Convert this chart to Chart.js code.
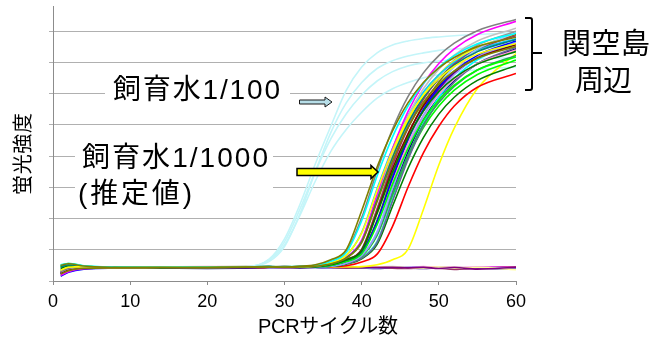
<!DOCTYPE html>
<html><head><meta charset="utf-8">
<script src="https://cdn.jsdelivr.net/npm/chart.js@4.4.1/dist/chart.umd.min.js"></script>
<style>html,body{margin:0;padding:0;background:#fff;}#wrap{width:660px;height:339px;}</style>
</head><body><div id="wrap"><canvas id="c" width="660" height="339"></canvas></div>
<script>
// ---- data ----
const cycles = [1,2,4,8,14,20,25,28,30,32,34,36,38,40,42,44,46,48,50,52,55,60];
const xTickValues = [0,10,20,30,40,50,60];

// 飼育水1/100 (light blue)
const water100 = [
  [0.48,0.53,0.46,0.44,0.45,0.44,0.45,0.70,1.35,2.45,3.75,4.95,6.10,6.85,7.30,7.55,7.68,7.76,7.81,7.85,7.89,7.95],
  [0.40,0.47,0.45,0.43,0.44,0.45,0.45,0.68,1.25,2.30,3.50,4.55,5.35,5.95,6.40,6.70,6.88,6.98,7.04,7.08,7.11,7.15],
  [0.33,0.42,0.44,0.44,0.43,0.45,0.46,0.66,1.15,2.10,3.20,4.15,4.85,5.40,5.85,6.15,6.35,6.50,6.60,6.68,6.76,6.85],
  [0.25,0.36,0.42,0.43,0.44,0.44,0.45,0.62,1.10,2.15,3.50,4.75,5.70,6.35,6.80,7.05,7.20,7.30,7.38,7.42,7.46,7.50]
];
const water100Color = '#c4f5f9';

// 関空島周辺 samples
const kix = [
  [0.50,0.55,0.48,0.44,0.43,0.44,0.45,0.45,0.45,0.47,0.52,0.68,1.00,2.25,3.65,4.80,5.70,6.35,6.82,7.15,7.50,7.80],
  [0.22,0.33,0.40,0.42,0.43,0.42,0.44,0.45,0.44,0.45,0.47,0.55,0.73,1.23,2.54,3.85,4.91,5.72,6.30,6.72,7.13,7.51],
  [0.52,0.56,0.49,0.45,0.44,0.45,0.44,0.45,0.46,0.46,0.50,0.63,0.91,1.93,3.36,4.61,5.60,6.32,6.84,7.21,7.59,7.93],
  [0.35,0.44,0.46,0.43,0.44,0.45,0.44,0.44,0.46,0.45,0.48,0.58,0.82,1.53,2.90,4.17,5.20,5.94,6.48,6.87,7.26,7.60],
  [0.30,0.40,0.44,0.42,0.43,0.45,0.46,0.44,0.45,0.46,0.50,0.64,0.94,2.02,3.53,4.86,5.90,6.66,7.21,7.61,8.01,8.37],
  [0.45,0.52,0.47,0.44,0.45,0.43,0.45,0.46,0.45,0.44,0.47,0.55,0.74,1.25,2.60,3.95,5.05,5.88,6.48,6.91,7.34,7.73],
  [0.18,0.30,0.39,0.42,0.44,0.43,0.44,0.45,0.46,0.45,0.47,0.56,0.76,1.31,2.77,4.23,5.42,6.31,6.96,7.43,7.89,8.31],
  [0.40,0.48,0.45,0.43,0.42,0.44,0.45,0.46,0.44,0.45,0.46,0.52,0.67,0.97,2.16,3.49,4.58,5.44,6.06,6.50,6.94,7.34],
  [0.48,0.54,0.47,0.44,0.44,0.45,0.44,0.45,0.45,0.46,0.46,0.50,0.62,0.87,1.80,3.10,4.24,5.15,5.80,6.27,6.75,7.17],
  [0.15,0.28,0.38,0.41,0.42,0.44,0.43,0.45,0.45,0.46,0.46,0.50,0.63,0.90,1.90,3.30,4.53,5.50,6.20,6.71,7.22,7.68],
  [0.32,0.41,0.44,0.43,0.44,0.44,0.45,0.45,0.44,0.46,0.47,0.55,0.75,1.29,2.71,4.13,5.28,6.15,6.78,7.23,7.68,8.09],
  [0.24,0.34,0.41,0.43,0.42,0.44,0.43,0.44,0.45,0.45,0.46,0.52,0.68,0.99,2.21,3.59,4.71,5.60,6.23,6.69,7.14,7.56],
  [0.20,0.31,0.40,0.42,0.43,0.43,0.44,0.45,0.44,0.45,0.455,0.48,0.58,0.82,1.55,2.95,4.25,5.30,6.05,6.60,7.15,7.65],
  [0.38,0.46,0.45,0.44,0.45,0.44,0.45,0.44,0.45,0.46,0.46,0.50,0.63,0.88,1.84,3.19,4.37,5.30,5.97,6.46,6.95,7.39],
  [0.28,0.37,0.42,0.43,0.44,0.45,0.44,0.46,0.45,0.45,0.46,0.48,0.58,0.83,1.59,3.05,4.40,5.49,6.27,6.85,7.42,7.94],
  [0.26,0.35,0.41,0.42,0.43,0.44,0.45,0.44,0.46,0.45,0.46,0.52,0.68,1.01,2.29,3.71,4.89,5.81,6.47,6.95,7.42,7.85],
  [0.46,0.51,0.46,0.44,0.43,0.44,0.45,0.45,0.44,0.45,0.455,0.48,0.58,0.80,1.48,2.80,4.02,5.01,5.71,6.23,6.75,7.22],
  [0.42,0.50,0.46,0.44,0.44,0.43,0.45,0.46,0.45,0.45,0.48,0.58,0.82,1.55,2.95,4.25,5.30,6.05,6.60,7.00,7.40,7.75],
  [0.21,0.32,0.40,0.42,0.43,0.44,0.43,0.45,0.44,0.45,0.45,0.47,0.55,0.73,1.23,2.56,3.88,4.96,5.77,6.36,6.95,7.48],
  [0.36,0.43,0.45,0.43,0.44,0.45,0.44,0.45,0.46,0.45,0.46,0.50,0.63,0.91,1.94,3.39,4.65,5.65,6.37,6.90,7.42,7.90],
  [0.44,0.49,0.46,0.45,0.44,0.44,0.45,0.45,0.45,0.46,0.47,0.55,0.75,1.27,2.64,4.02,5.14,5.99,6.60,7.04,7.48,7.88],
  [0.27,0.36,0.42,0.43,0.43,0.44,0.44,0.45,0.44,0.45,0.45,0.47,0.54,0.71,1.17,2.39,3.60,4.59,5.34,5.88,6.42,6.90],
  [0.50,0.56,0.48,0.44,0.44,0.45,0.45,0.44,0.45,0.45,0.455,0.48,0.57,0.79,1.46,2.75,3.95,4.91,5.60,6.11,6.61,7.07],
  [0.31,0.39,0.43,0.43,0.44,0.44,0.45,0.46,0.45,0.45,0.46,0.52,0.69,1.02,2.32,3.78,4.97,5.91,6.59,7.07,7.55,7.99],
  [0.49,0.55,0.48,0.45,0.44,0.44,0.45,0.45,0.46,0.45,0.45,0.47,0.55,0.74,1.25,2.60,3.95,5.05,5.88,6.48,7.08,7.62],
  [0.23,0.33,0.40,0.42,0.42,0.43,0.44,0.45,0.44,0.45,0.46,0.50,0.63,0.90,1.89,3.27,4.48,5.45,6.14,6.65,7.15,7.61],
  [0.25,0.35,0.41,0.42,0.43,0.42,0.43,0.44,0.45,0.44,0.455,0.48,0.58,0.81,1.52,2.88,4.14,5.15,5.88,6.42,6.95,7.43],
  [0.37,0.44,0.45,0.44,0.43,0.45,0.44,0.45,0.45,0.46,0.45,0.47,0.55,0.75,1.28,2.69,4.09,5.23,6.10,6.72,7.35,7.91],
  [0.29,0.38,0.42,0.43,0.43,0.44,0.43,0.44,0.45,0.44,0.45,0.46,0.49,0.61,0.86,1.75,3.00,4.10,4.95,5.60,6.20,6.64],
  [0.33,0.40,0.43,0.44,0.43,0.44,0.45,0.44,0.45,0.44,0.45,0.45,0.45,0.46,0.52,0.68,1.01,2.29,3.71,4.89,6.16,7.28]
];
const kixColors = ['#808000','#808000','#00ffff','#ffff00','#808080','#008080','#ff00ff','#008000','#00ff00','#0000ff',
  '#c0c0c0','#800000','#9999ff','#ff99cc','#99ccff','#993366','#339966','#00ccff','#666699','#808000',
  '#ffff00','#008000','#00ff00','#969696','#00ffff','#800080','#000080','#c0c0c0','#ff0000','#ffff00'];

// negative controls (flat)
const negatives = [
  [0.28,0.36,0.42,0.43,0.44,0.43,0.45,0.44,0.45,0.44,0.46,0.45,0.44,0.45,0.43,0.44,0.42,0.44,0.40,0.43,0.38,0.44],
  [0.32,0.40,0.44,0.45,0.44,0.45,0.46,0.47,0.46,0.47,0.48,0.47,0.46,0.45,0.44,0.45,0.43,0.42,0.45,0.41,0.44,0.36],
  [0.20,0.32,0.40,0.41,0.42,0.41,0.43,0.42,0.43,0.44,0.43,0.42,0.44,0.43,0.42,0.44,0.45,0.43,0.42,0.41,0.43,0.42],
  [0.24,0.34,0.41,0.43,0.42,0.44,0.43,0.41,0.42,0.43,0.44,0.42,0.41,0.42,0.43,0.41,0.40,0.42,0.41,0.37,0.42,0.45],
  [0.26,0.35,0.40,0.42,0.41,0.40,0.41,0.42,0.43,0.42,0.43,0.41,0.42,0.41,0.40,0.42,0.41,0.40,0.42,0.40,0.41,0.40],
  [0.38,0.46,0.45,0.44,0.45,0.46,0.45,0.44,0.45,0.46,0.45,0.44,0.46,0.45,0.44,0.43,0.44,0.46,0.43,0.44,0.42,0.43],
  [0.30,0.38,0.43,0.44,0.43,0.44,0.45,0.46,0.44,0.45,0.44,0.43,0.45,0.44,0.45,0.46,0.44,0.43,0.44,0.45,0.40,0.38],
  [0.27,0.37,0.43,0.42,0.44,0.45,0.44,0.43,0.44,0.45,0.44,0.45,0.43,0.44,0.45,0.43,0.44,0.45,0.43,0.42,0.44,0.45],
  [0.23,0.33,0.41,0.43,0.43,0.42,0.44,0.43,0.44,0.43,0.45,0.44,0.43,0.42,0.44,0.43,0.42,0.41,0.43,0.44,0.39,0.41]
];
const negColors = ['#800080','#ffff99','#9999ff','#993366','#000080','#ff99cc','#c0c0c0','#ff00ff','#cc99ff'];

// texts
const yTitle = '蛍光強度';
const xTitle = 'PCRサイクル数';
const label100 = '飼育水1/100';
const label1000 = ['飼育水1/1000', '(推定値)'];
const labelKix = ['関空島', '周辺'];

// ---- build datasets ----
function toPts(vals){ return cycles.map((c,i)=>({x:c, y:vals[i]})); }
const datasets = [];
kix.forEach((v,i)=>datasets.push({data:toPts(v), borderColor:kixColors[i]}));
water100.forEach(v=>datasets.push({data:toPts(v), borderColor:water100Color}));
negatives.forEach((v,i)=>datasets.push({data:toPts(v), borderColor:negColors[i]}));
datasets.forEach(d=>{ d.borderWidth=1.6; d.pointRadius=0; d.fill=false; d.cubicInterpolationMode='monotone'; });

const FONT = "'Liberation Sans', 'Noto Sans CJK JP', sans-serif";

function spaced(ctx, text, x, y, width){
  const chars = Array.from(text);
  const w = chars.map(c=>ctx.measureText(c).width);
  const nat = w.reduce((a,b)=>a+b,0);
  const gap = chars.length>1 ? (width-nat)/(chars.length-1) : 0;
  let cx = x;
  chars.forEach((c,i)=>{ ctx.fillText(c, cx, y); cx += w[i]+gap; });
}

const annot = {
  id:'annot',
  afterDraw(chart){
    const ctx = chart.ctx;
    ctx.save();
    ctx.fillStyle = '#fff';
    ctx.fillRect(105, 78, 185, 28);
    ctx.fillRect(75, 140, 198, 70);
    ctx.fillStyle = '#000';
    ctx.textBaseline = 'middle';
    ctx.textAlign = 'left';
    ctx.font = '28px ' + FONT;
    spaced(ctx, label100, 113, 91, 167);
    spaced(ctx, label1000[0], 82, 159, 186);
    spaced(ctx, label1000[1], 78, 195, 114);
    ctx.font = '29px ' + FONT;
    spaced(ctx, labelKix[0], 562, 46, 88);
    spaced(ctx, labelKix[1], 575, 83, 57);
    ctx.font = '20px ' + FONT;
    spaced(ctx, xTitle, 258, 327, 140);
    ctx.save();
    ctx.translate(24, 195);
    ctx.rotate(-Math.PI/2);
    ctx.font = '20px ' + FONT;
    spaced(ctx, yTitle, 0, 0, 82);
    ctx.restore();
    // bracket
    ctx.strokeStyle = '#000';
    ctx.lineWidth = 2;
    ctx.beginPath();
    ctx.moveTo(525, 18); ctx.lineTo(530, 18); ctx.quadraticCurveTo(532, 18, 532, 20);
    ctx.lineTo(532, 88); ctx.quadraticCurveTo(532, 90, 530, 90); ctx.lineTo(525, 90);
    ctx.moveTo(532, 53); ctx.lineTo(542, 53);
    ctx.stroke();
    // small light-blue arrow
    ctx.lineWidth = 1;
    ctx.fillStyle = '#b7dee8';
    ctx.strokeStyle = '#1a1a1a';
    ctx.beginPath();
    ctx.moveTo(299.5, 100); ctx.lineTo(325, 100); ctx.lineTo(325, 97); ctx.lineTo(332, 102);
    ctx.lineTo(325, 107); ctx.lineTo(325, 104); ctx.lineTo(299.5, 104); ctx.closePath();
    ctx.fill(); ctx.stroke();
    // yellow arrow
    ctx.lineWidth = 1.5;
    ctx.fillStyle = '#ffff00';
    ctx.strokeStyle = '#000';
    ctx.beginPath();
    ctx.moveTo(297, 168.5); ctx.lineTo(371, 168.5); ctx.lineTo(371, 165.5); ctx.lineTo(378, 172);
    ctx.lineTo(371, 178.5); ctx.lineTo(371, 175.5); ctx.lineTo(297, 175.5); ctx.closePath();
    ctx.fill(); ctx.stroke();
    ctx.restore();
  }
};

new Chart(document.getElementById('c'), {
  type:'line',
  data:{datasets},
  options:{
    responsive:false, animation:false, devicePixelRatio:1,
    layout:{padding:{left:0, top:6, right:144, bottom:0}},
    plugins:{legend:{display:false}, tooltip:{enabled:false}},
    scales:{
      x:{type:'linear', min:0, max:60,
        afterBuildTicks:(s)=>{ s.ticks = xTickValues.map(v=>({value:v})); },
        afterFit:(s)=>{ s.height = 58; },
        grid:{drawOnChartArea:false, drawTicks:true, tickLength:4, color:'#8c8c8c'},
        border:{color:'#8c8c8c', width:1},
        ticks:{color:'#000', padding:6, maxRotation:0, font:{family:"'Liberation Sans', Arial, sans-serif", size:18}}
      },
      y:{type:'linear', min:0, max:8.8,
        afterBuildTicks:(s)=>{ s.ticks = s.ticks.filter(t=>Number.isInteger(t.value)); },
        afterFit:(s)=>{ s.width = 53; },
        grid:{drawTicks:true, tickLength:4, color:'#b0b0b0'},
        border:{color:'#8c8c8c', width:1},
        ticks:{display:false, stepSize:1}
      }
    }
  },
  plugins:[annot]
});
</script>
</body></html>
